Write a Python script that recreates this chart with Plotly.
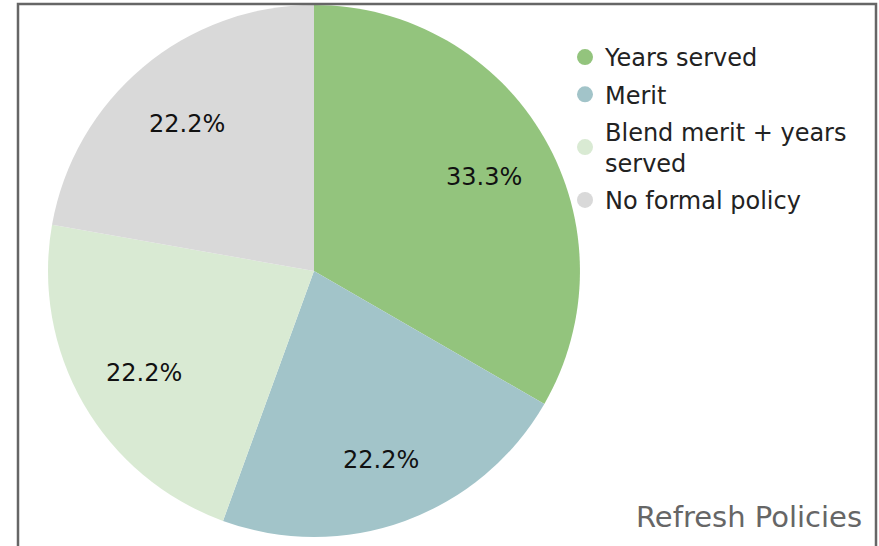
import math
import plotly.graph_objects as go

# Share of organisations by refresh-policy type
categories = ["Years served", "Merit", "Blend merit + years<br>served", "No formal policy"]
counts = [3, 2, 2, 2]
colors = ["#93c47d", "#a2c4c9", "#d9ead3", "#d9d9d9"]

W, H = 879, 546
FONT = "DejaVu Sans, Verdana, sans-serif"

# Pie domain (paper fractions)
DOM_X = [0.0546, 0.6598]
DOM_Y = [0.0165, 0.991]

fig = go.Figure()

fig.add_trace(go.Pie(
    labels=categories,
    values=counts,
    marker=dict(colors=colors, line=dict(width=0)),
    sort=False,
    direction="clockwise",
    rotation=0,
    textinfo="none",
    hoverinfo="label+percent",
    showlegend=False,
    domain=dict(x=DOM_X, y=DOM_Y),
))

# Percentage labels placed along each slice's bisector
cx = (DOM_X[0] + DOM_X[1]) / 2 * W
cy = (1 - (DOM_Y[0] + DOM_Y[1]) / 2) * H
radius = min((DOM_X[1] - DOM_X[0]) * W, (DOM_Y[1] - DOM_Y[0]) * H) / 2
label_r = 0.74 * radius
total = sum(counts)
annotations = []
cum = 0
for v in counts:
    theta = 2 * math.pi * (cum + v / 2) / total
    cum += v
    px = cx + label_r * math.sin(theta)
    py = cy - label_r * math.cos(theta) + 4
    annotations.append(dict(
        text=f"{v / total:.1%}", xref="paper", yref="paper",
        x=px / W, y=1 - py / H, xanchor="center", yanchor="middle",
        showarrow=False, font=dict(family=FONT, size=24, color="#111111"),
    ))

annotations.append(dict(
    text="Refresh Policies", xref="paper", yref="paper",
    x=864 / W, y=1 - 536 / H, xanchor="right", yanchor="bottom",
    showarrow=False, font=dict(family=FONT, size=29, color="#666666"),
))

# Legend entries with round markers
for name, col in zip(categories, colors):
    fig.add_trace(go.Scatter(
        x=[None], y=[None], mode="markers", name=name,
        marker=dict(symbol="circle", size=16, color=col),
        legendgroup=name, showlegend=True,
    ))

fig.update_layout(
    width=W, height=H,
    margin=dict(l=0, r=0, t=0, b=0),
    paper_bgcolor="white",
    plot_bgcolor="white",
    xaxis=dict(visible=False),
    yaxis=dict(visible=False),
    legend=dict(
        x=565 / W, y=1 - 35 / H, xanchor="left", yanchor="top",
        font=dict(family=FONT, size=24, color="#222222"),
        tracegroupgap=3, bgcolor="rgba(0,0,0,0)",
        itemsizing="trace",
    ),
    shapes=[dict(
        type="rect", xref="paper", yref="paper",
        x0=18 / W, x1=876 / W, y0=-0.1, y1=1 - 4 / H,
        line=dict(color="#666666", width=2.5), fillcolor="rgba(0,0,0,0)",
        layer="above",
    )],
    annotations=annotations,
)

fig.write_html("out.html")
